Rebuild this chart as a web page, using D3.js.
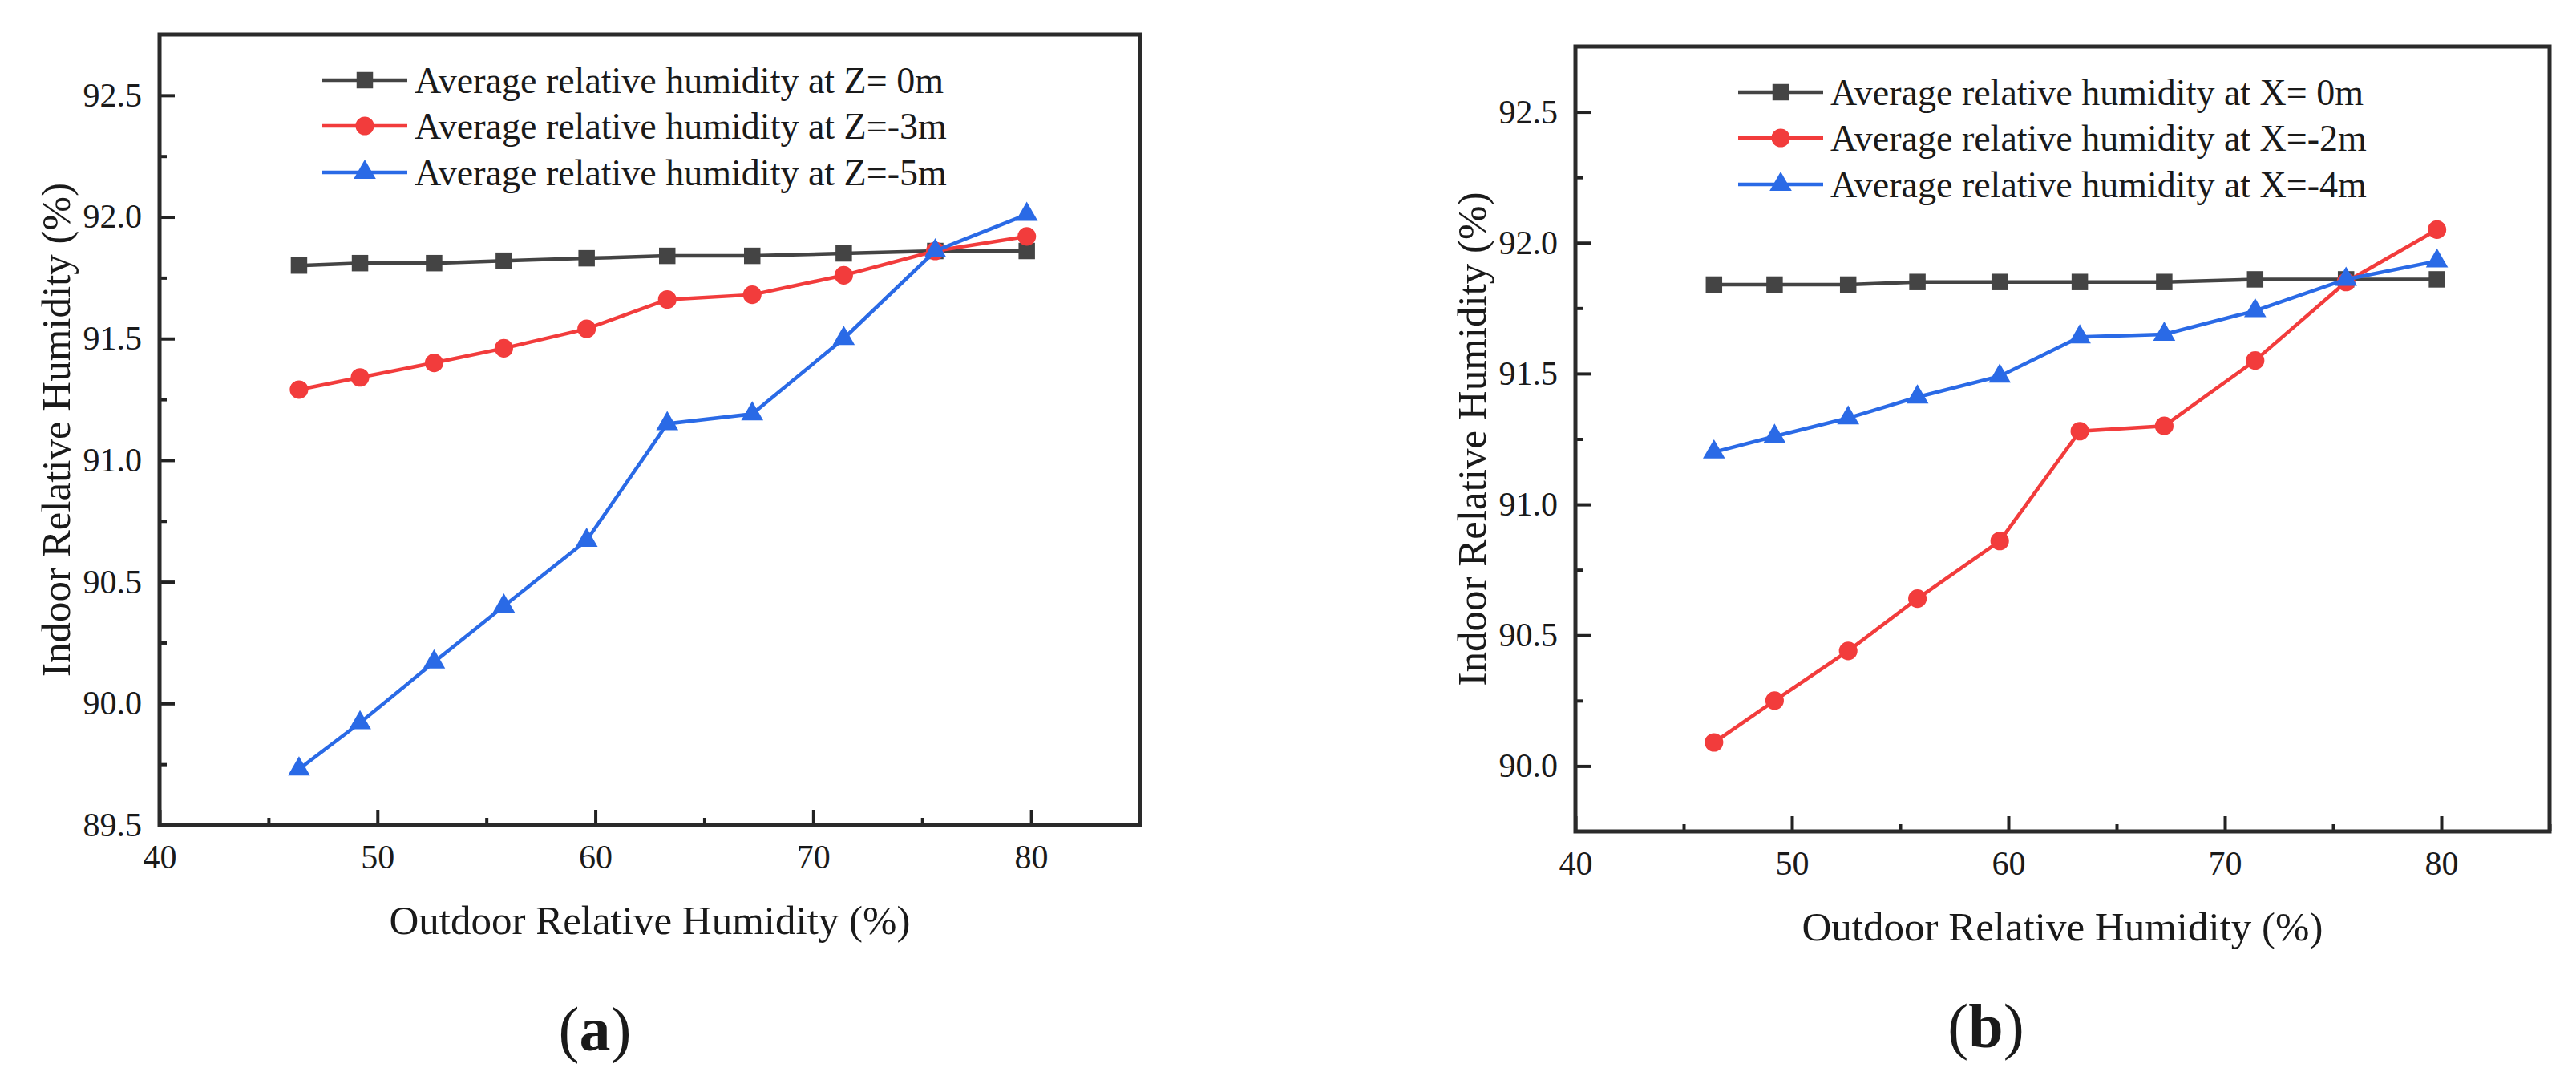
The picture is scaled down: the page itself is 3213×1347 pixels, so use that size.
<!DOCTYPE html>
<html>
<head>
<meta charset="utf-8">
<style>
  body { margin: 0; background: #fff; }
  svg { display: block; }
  text { font-family: "Liberation Serif", "Times New Roman", serif; fill: #1a1a1a; }
</style>
</head>
<body>
<div id="chart-area"></div>

<script src="https://cdnjs.cloudflare.com/ajax/libs/d3/7.8.5/d3.min.js"></script>
<script>
    // outdoor relative humidity (%), same for every series
    const outdoorRH = [46.4, 49.2, 52.6, 55.8, 59.6, 63.3, 67.2, 71.4, 75.6, 79.8];

    // panel (a): depth Z
    const zNames = ["Average relative humidity at Z= 0m",
                    "Average relative humidity at Z=-3m",
                    "Average relative humidity at Z=-5m"];
    const z0  = [91.80, 91.81, 91.81, 91.82, 91.83, 91.84, 91.84, 91.85, 91.86, 91.86];
    const zm3 = [91.29, 91.34, 91.40, 91.46, 91.54, 91.66, 91.68, 91.76, 91.86, 91.92];
    const zm5 = [89.73, 89.92, 90.17, 90.40, 90.67, 91.15, 91.19, 91.50, 91.86, 92.01];

    // panel (b): distance X
    const xNames = ["Average relative humidity at X= 0m",
                    "Average relative humidity at X=-2m",
                    "Average relative humidity at X=-4m"];
    const x0  = [91.84, 91.84, 91.84, 91.85, 91.85, 91.85, 91.85, 91.86, 91.86, 91.86];
    const xm2 = [90.09, 90.25, 90.44, 90.64, 90.86, 91.28, 91.30, 91.55, 91.85, 92.05];
    const xm4 = [91.20, 91.26, 91.33, 91.41, 91.49, 91.64, 91.65, 91.74, 91.86, 91.93];

    const xTicks = [40, 50, 60, 70, 80];
    const xMinor = [45, 55, 65, 75, 85];
    const yTicksA = [89.5, 90.0, 90.5, 91.0, 91.5, 92.0, 92.5];
    const yTicksB = [90.0, 90.5, 91.0, 91.5, 92.0, 92.5];
    const yMinorA = [89.75, 90.25, 90.75, 91.25, 91.75, 92.25];
    const yMinorB = [90.25, 90.75, 91.25, 91.75, 92.25];

    const xTitle = "Outdoor Relative Humidity (%)";
    const yTitle = "Indoor Relative Humidity (%)";

    const colors = ["#444444", "#f23c3c", "#2a6ae6"];
    const shapes = [d3.symbolSquare, d3.symbolCircle, d3.symbolTriangle];

    const width = 3213;
    const height = 1347;

    const svg = d3.select("#chart-area")
        .append("svg")
            .attr("width", width)
            .attr("height", height);

    const panels = [
        { left: 199, top: 43, w: 1223, h: 986, yDomain: [89.5, 92.75],
          yTicks: yTicksA, yMinor: yMinorA, names: zNames, series: [z0, zm3, zm5],
          yTitleX: 69, tag: "a", tagX: 742, tagY: 1310 },
        { left: 1965, top: 58, w: 1215, h: 979, yDomain: [89.75, 92.75],
          yTicks: yTicksB, yMinor: yMinorB, names: xNames, series: [x0, xm2, xm4],
          yTitleX: 1835, tag: "b", tagX: 2477, tagY: 1306 }
    ];

    panels.forEach(p => {
        const g = svg.append("g")
            .attr("transform", `translate(${p.left},${p.top})`);

        const x = d3.scaleLinear().domain([40, 85]).range([0, p.w]);
        const y = d3.scaleLinear().domain(p.yDomain).range([p.h, 0]);

        // ticks point inward, Origin style
        const xAxis = g.append("g")
            .attr("transform", `translate(0,${p.h})`)
            .call(d3.axisBottom(x).tickValues(xTicks).tickSize(-19).tickPadding(24)
                .tickFormat(d3.format("d")));
        g.append("g")
            .attr("transform", `translate(0,${p.h})`)
            .call(d3.axisBottom(x).tickValues(xMinor).tickSize(-9).tickFormat(""));
        const yAxis = g.append("g")
            .call(d3.axisLeft(y).tickValues(p.yTicks).tickSize(-19).tickPadding(22)
                .tickFormat(d3.format(".1f")));
        g.append("g")
            .call(d3.axisLeft(y).tickValues(p.yMinor).tickSize(-9).tickFormat(""));

        g.selectAll(".domain").remove();
        g.selectAll(".tick line").attr("stroke", "#222").attr("stroke-width", 4);
        g.selectAll(".tick text")
            .style("font-family", "'Liberation Serif', serif")
            .attr("font-size", 42)
            .attr("fill", "#1a1a1a");

        // frame
        g.append("rect")
            .attr("width", p.w)
            .attr("height", p.h)
            .attr("fill", "none")
            .attr("stroke", "#2a2a2a")
            .attr("stroke-width", 5);

        const line = d3.line()
            .x((d, i) => x(outdoorRH[i]))
            .y(d => y(d));

        p.series.forEach((vals, k) => {
            g.append("path")
                .datum(vals)
                .attr("fill", "none")
                .attr("stroke", colors[k])
                .attr("stroke-width", 4.5)
                .attr("d", line);

            g.selectAll(null)
                .data(vals)
                .enter().append("path")
                    .attr("transform", (d, i) => `translate(${x(outdoorRH[i])},${y(d)})`)
                    .attr("d", d3.symbol().type(shapes[k]).size(k === 2 ? 330 : 420))
                    .attr("fill", colors[k]);
        });

        // legend
        const rowY = [57, 114, 172];
        p.names.forEach((name, k) => {
            const lg = g.append("g")
                .attr("transform", `translate(203,${rowY[k]})`);
            lg.append("line")
                .attr("x1", 0).attr("x2", 106)
                .attr("stroke", colors[k])
                .attr("stroke-width", 4.5);
            lg.append("path")
                .attr("transform", "translate(53,0)")
                .attr("d", d3.symbol().type(shapes[k]).size(k === 2 ? 330 : 420))
                .attr("fill", colors[k]);
            lg.append("text")
                .attr("x", 115)
                .attr("dy", "0.35em")
                .attr("font-size", 46)
                .text(name);
        });

        // axis titles
        g.append("text")
            .attr("x", p.w / 2)
            .attr("y", p.h + 118)
            .attr("dy", "0.35em")
            .attr("text-anchor", "middle")
            .attr("font-size", 51)
            .text(xTitle);

        svg.append("text")
            .attr("transform", `translate(${p.yTitleX},${p.top + p.h / 2}) rotate(-90)`)
            .attr("dy", "0.35em")
            .attr("text-anchor", "middle")
            .attr("font-size", 51)
            .text(yTitle);

        // panel tag
        const tag = svg.append("text")
            .attr("x", p.tagX)
            .attr("y", p.tagY)
            .attr("text-anchor", "middle")
            .attr("font-size", 78)
            .attr("fill", "#000");
        tag.append("tspan").text("(");
        tag.append("tspan").attr("font-weight", "bold").text(p.tag);
        tag.append("tspan").text(")");
    });
</script>
</body>
</html>
